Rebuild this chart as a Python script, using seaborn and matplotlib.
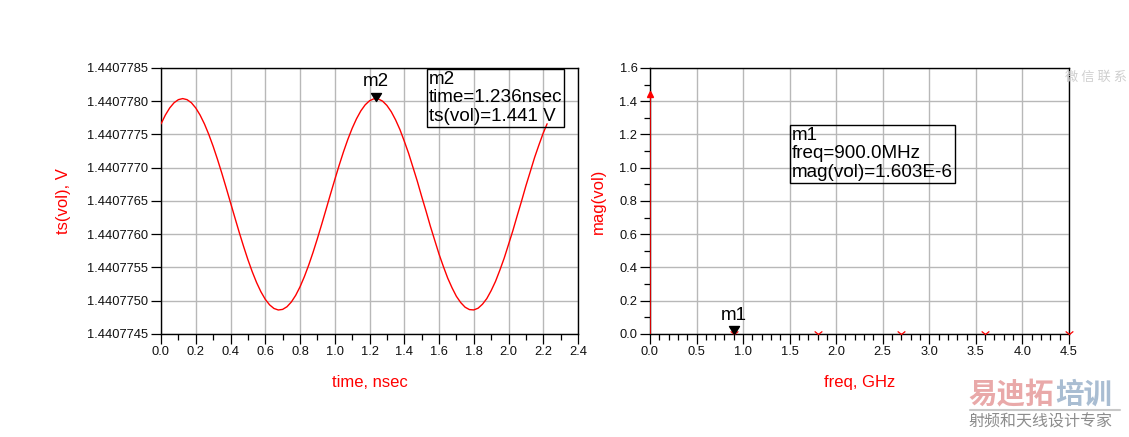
import numpy as np
import pandas as pd
import matplotlib
matplotlib.use("Agg")
import matplotlib.pyplot as plt
import seaborn as sns
from matplotlib.ticker import MultipleLocator, FormatStrFormatter
from matplotlib.path import Path
from matplotlib.lines import Line2D

# ---------------- data ----------------
time_ns = [0.000, 0.025, 0.050, 0.075, 0.100, 0.125, 0.150, 0.175, 0.200, 0.225,
           0.250, 0.275, 0.300, 0.325, 0.350, 0.375, 0.400, 0.425, 0.450, 0.475,
           0.500, 0.525, 0.550, 0.575, 0.600, 0.625, 0.650, 0.675, 0.700, 0.725,
           0.750, 0.775, 0.800, 0.825, 0.850, 0.875, 0.900, 0.925, 0.950, 0.975,
           1.000, 1.025, 1.050, 1.075, 1.100, 1.125, 1.150, 1.175, 1.200, 1.225,
           1.250, 1.275, 1.300, 1.325, 1.350, 1.375, 1.400, 1.425, 1.450, 1.475,
           1.500, 1.525, 1.550, 1.575, 1.600, 1.625, 1.650, 1.675, 1.700, 1.725,
           1.750, 1.775, 1.800, 1.825, 1.850, 1.875, 1.900, 1.925, 1.950, 1.975,
           2.000, 2.025, 2.050, 2.075, 2.100, 2.125, 2.150, 2.175, 2.200, 2.222]
ts_vol = [1.440777659, 1.440777792, 1.440777899, 1.440777977, 1.440778024,
          1.440778040, 1.440778024, 1.440777977, 1.440777899, 1.440777792,
          1.440777659, 1.440777501, 1.440777323, 1.440777127, 1.440776918,
          1.440776699, 1.440776475, 1.440776251, 1.440776030, 1.440775819,
          1.440775619, 1.440775437, 1.440775274, 1.440775135, 1.440775022,
          1.440774938, 1.440774884, 1.440774861, 1.440774870, 1.440774910,
          1.440774981, 1.440775081, 1.440775209, 1.440775362, 1.440775536,
          1.440775728, 1.440775935, 1.440776152, 1.440776375, 1.440776600,
          1.440776821, 1.440777035, 1.440777238, 1.440777425, 1.440777592,
          1.440777736, 1.440777855, 1.440777946, 1.440778007, 1.440778037,
          1.440778035, 1.440778002, 1.440777937, 1.440777843, 1.440777720,
          1.440777574, 1.440777400, 1.440777216, 1.440777007, 1.440776797,
          1.440776569, 1.440776350, 1.440776122, 1.440775911, 1.440775701,
          1.440775515, 1.440775340, 1.440775194, 1.440775066, 1.440774972,
          1.440774903, 1.440774867, 1.440774862, 1.440774888, 1.440774948,
          1.440775033, 1.440775152, 1.440775291, 1.440775460, 1.440775641,
          1.440775847, 1.440776055, 1.440776281, 1.440776500, 1.440776729,
          1.440776941, 1.440777155, 1.440777344, 1.440777524, 1.440777661]

freq_ghz = [0.0, 0.9, 1.8, 2.7, 3.6, 4.5]
mag_vol = [1.4408, 1.603e-6, 1.0e-7, 1.0e-7, 1.0e-7, 1.0e-7]

m2_time, m2_val = 1.236, 1.4407780
m1_freq, m1_val = 0.9, 1.603e-6
m2_lines = ["m2", "time=1.236nsec", "ts(vol)=1.441 V"]
m1_lines = ["m1", "freq=900.0MHz", "mag(vol)=1.603E-6"]

left_xticks = [0.0, 0.2, 0.4, 0.6, 0.8, 1.0, 1.2, 1.4, 1.6, 1.8, 2.0, 2.2, 2.4]
left_yticks = [1.4407745, 1.4407750, 1.4407755, 1.4407760, 1.4407765,
               1.4407770, 1.4407775, 1.4407780, 1.4407785]
right_xticks = [0.0, 0.5, 1.0, 1.5, 2.0, 2.5, 3.0, 3.5, 4.0, 4.5]
right_yticks = [0.0, 0.2, 0.4, 0.6, 0.8, 1.0, 1.2, 1.4, 1.6]

# ---------------- style ----------------
sns.set_theme(style="white")
plt.rcParams['font.family'] = ['Liberation Sans', 'DejaVu Sans']
RED = '#ff0000'
GRID = '#b8b8b8'

fig = plt.figure(figsize=(11.29, 4.37), dpi=100)
ax1 = fig.add_axes([0.1426, 0.2357, 0.3694, 0.6087])
ax2 = fig.add_axes([0.5757, 0.2357, 0.3711, 0.6087])

tri_down = Path([(-0.5, 0.8), (0.5, 0.8), (0.0, 0.0), (-0.5, 0.8)],
                [Path.MOVETO, Path.LINETO, Path.LINETO, Path.CLOSEPOLY])
vee = Path([(-1.0, 0.8), (0.0, 0.0), (1.0, 0.8)],
           [Path.MOVETO, Path.LINETO, Path.LINETO])


def style_axes(ax):
    ax.set_facecolor('white')
    ax.grid(True, which='major', color=GRID, linewidth=1.0)
    ax.set_axisbelow(True)
    for s in ax.spines.values():
        s.set_visible(True)
        s.set_color('black')
        s.set_linewidth(1.0)
        s.set_zorder(3)
    ax.tick_params(which='major', direction='out', length=7.5, width=0.9,
                   color='black', labelsize=9.3, labelcolor='#111111', pad=1.5,
                   bottom=True, left=True, top=False, right=False)
    ax.tick_params(which='minor', direction='out', length=4.3, width=0.9,
                   color='black', bottom=True, left=True, top=False, right=False)


# ---------------- left: time domain ----------------
df_t = pd.DataFrame({'time': time_ns, 'ts': ts_vol})
sns.lineplot(data=df_t, x='time', y='ts', ax=ax1, color=RED, linewidth=1.0,
             zorder=4)
ax1.set_xlim(0, 2.4)
ax1.set_ylim(1.4407745, 1.4407785)
ax1.set_xticks(left_xticks)
ax1.set_yticks(left_yticks)
ax1.xaxis.set_major_formatter(FormatStrFormatter('%.1f'))
ax1.yaxis.set_major_formatter(FormatStrFormatter('%.7f'))
ax1.xaxis.set_minor_locator(MultipleLocator(0.1))
style_axes(ax1)
ax1.set_xlabel('time, nsec', color=RED, fontsize=12, labelpad=12)
ax1.set_ylabel('ts(vol), V', color=RED, fontsize=12, labelpad=12)

ax1.plot([m2_time], [m2_val], marker=tri_down, markersize=11.5, color='black',
         linestyle='none', zorder=6, clip_on=False)
ax1.annotate(m2_lines[0], (m2_time, m2_val), xytext=(0, 8),
             textcoords='offset points', ha='center', va='bottom',
             fontsize=13.5, color='black')
ax1.text(0.642, 0.990, "\n".join(m2_lines), transform=ax1.transAxes,
         ha='left', va='top', fontsize=13.6, linespacing=1.12, color='black',
         zorder=7,
         bbox=dict(boxstyle='square,pad=0.1', fc='none', ec='black', lw=1.0))

# ---------------- right: spectrum ----------------
df_f = pd.DataFrame({'freq': freq_ghz, 'mag': mag_vol})
ax2.vlines(df_f['freq'], 0, df_f['mag'], color=RED, linewidth=1.2, zorder=5)
ax2.plot(df_f['freq'][:1], df_f['mag'][:1], marker='^', markersize=4,
         color=RED, linestyle='none', zorder=6, clip_on=False)
ax2.plot(df_f['freq'][1:], [0] * (len(freq_ghz) - 1), marker=vee,
         markersize=5.5, markerfacecolor='none', markeredgecolor=RED,
         markeredgewidth=0.9, linestyle='none', zorder=6, clip_on=False)
ax2.set_xlim(0, 4.5)
ax2.set_ylim(0, 1.6)
ax2.set_xticks(right_xticks)
ax2.set_yticks(right_yticks)
ax2.xaxis.set_major_formatter(FormatStrFormatter('%.1f'))
ax2.yaxis.set_major_formatter(FormatStrFormatter('%.1f'))
ax2.xaxis.set_minor_locator(MultipleLocator(0.1))
ax2.yaxis.set_minor_locator(MultipleLocator(0.1))
style_axes(ax2)
ax2.set_xlabel('freq, GHz', color=RED, fontsize=12, labelpad=12)
ax2.set_ylabel('mag(vol)', color=RED, fontsize=12, labelpad=10)

ax2.plot([m1_freq], [m1_val], marker=tri_down, markersize=11.5, color='black',
         linestyle='none', zorder=7, clip_on=False)
ax2.annotate(m1_lines[0], (m1_freq, m1_val), xytext=(0, 7),
             textcoords='offset points', ha='center', va='bottom',
             fontsize=13.5, color='black')
ax2.text(0.339, 0.780, "\n".join(m1_lines), transform=ax2.transAxes,
         ha='left', va='top', fontsize=13.6, linespacing=1.12, color='black',
         zorder=7,
         bbox=dict(boxstyle='square,pad=0.1', fc='none', ec='black', lw=1.0))

# ---------------- watermarks ----------------
cjk = ['Noto Sans CJK SC', 'DejaVu Sans']
fig.text(0.9985, 0.823, '微 信 联 系', ha='right', va='center', fontsize=9.5,
         color='#cfcfcf', family=cjk)
fig.text(0.858, 0.097, '易迪拓', ha='left', va='center', fontsize=20.5,
         fontweight='bold', color='#e9a9a9', family=cjk)
fig.text(0.935, 0.097, '培训', ha='left', va='center', fontsize=20.5,
         fontweight='bold', color='#a9bdd2', family=cjk)
fig.add_artist(Line2D([0.859, 0.992], [0.062, 0.062], transform=fig.transFigure,
                      color='#c8c8c8', linewidth=1.5))
fig.text(0.858, 0.035, '射频和天线设计专家', ha='left', va='center', fontsize=11.5,
         color='#8c8c8c', family=cjk)

fig.savefig('out.png', dpi=100, facecolor='white')
